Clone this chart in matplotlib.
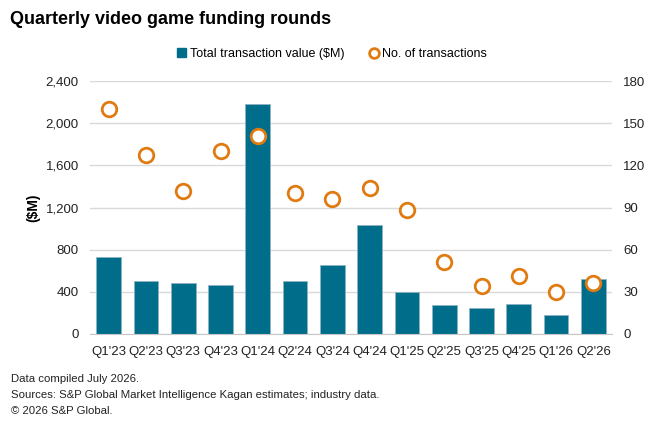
import matplotlib
matplotlib.use("Agg")
import matplotlib.pyplot as plt
from matplotlib.lines import Line2D
from matplotlib.patches import Patch
from matplotlib.ticker import FuncFormatter
import numpy as np

plt.rcParams['font.family'] = ['Liberation Sans', 'DejaVu Sans']

# data
quarters = ["Q1'23", "Q2'23", "Q3'23", "Q4'23", "Q1'24", "Q2'24", "Q3'24",
            "Q4'24", "Q1'25", "Q2'25", "Q3'25", "Q4'25", "Q1'26", "Q2'26"]
total_value = [730, 503, 487, 462, 2180, 503, 655, 1031, 396, 272, 244, 285, 177, 519]
num_transactions = [160, 127, 102, 130, 141, 100, 96, 104, 88, 51, 34, 41, 30, 36]

bar_color = "#006e8a"
dot_color = "#e07b12"
grid_color = "#d9d9d9"

fig = plt.figure(figsize=(6.6, 4.26), dpi=100)
ax = fig.add_axes([90 / 660, 1 - 334 / 426, 522 / 660, 253 / 426])
ax2 = ax.twinx()

x = np.arange(len(quarters))
ax.bar(x, total_value, width=0.66, color=bar_color, edgecolor="#8fb3c2",
       linewidth=0.6, zorder=2)
ax2.scatter(x, num_transactions, s=110, facecolor="white", edgecolor=dot_color,
            linewidth=2, zorder=3)

ax.set_xlim(-0.5, len(quarters) - 0.5)
ax.set_ylim(0, 2400)
ax.set_yticks(np.arange(0, 2401, 400))
ax.yaxis.set_major_formatter(FuncFormatter(lambda v, p: f"{int(v):,}"))
ax2.set_ylim(0, 180)
ax2.set_yticks(np.arange(0, 181, 30))

ax.set_xticks(x)
ax.set_xticklabels(quarters)
ax.grid(axis="y", color=grid_color, linewidth=1, zorder=0)
ax.set_axisbelow(True)

for a in (ax, ax2):
    for s in a.spines.values():
        s.set_visible(False)
    a.tick_params(length=0, labelsize=9.5, colors="#222222")
ax.spines["bottom"].set_visible(True)
ax.spines["bottom"].set_color("#c8c8c8")
ax.tick_params(axis="x", pad=9)
ax.tick_params(axis="y", pad=8)
ax2.tick_params(axis="y", pad=8)

ax.set_ylabel("($M)", fontsize=10, fontweight="bold", labelpad=4)

fig.text(10 / 660, 1 - 20 / 426, "Quarterly video game funding rounds",
         fontsize=13, fontweight="bold", va="center", ha="left")

handles = [Patch(facecolor=bar_color, edgecolor=bar_color),
           Line2D([], [], marker="o", linestyle="none", markerfacecolor="white",
                  markeredgecolor=dot_color, markeredgewidth=2, markersize=7)]
fig.legend(handles, ["Total transaction value ($M)", "No. of transactions"],
           loc="center", bbox_to_anchor=(332 / 660, 1 - 54 / 426), ncol=2,
           frameon=False, fontsize=9, handlelength=0.7, handletextpad=0.3,
           columnspacing=2)

notes = ["Data compiled July 2026.",
         "Sources: S&P Global Market Intelligence Kagan estimates; industry data.",
         "\u00a9 2026 S&P Global."]
for i, line in enumerate(notes):
    fig.text(11 / 660, 1 - (379 + i * 16) / 426, line, fontsize=8.2,
             va="center", ha="left", color="#222222")

fig.savefig("out.png", dpi=100)
